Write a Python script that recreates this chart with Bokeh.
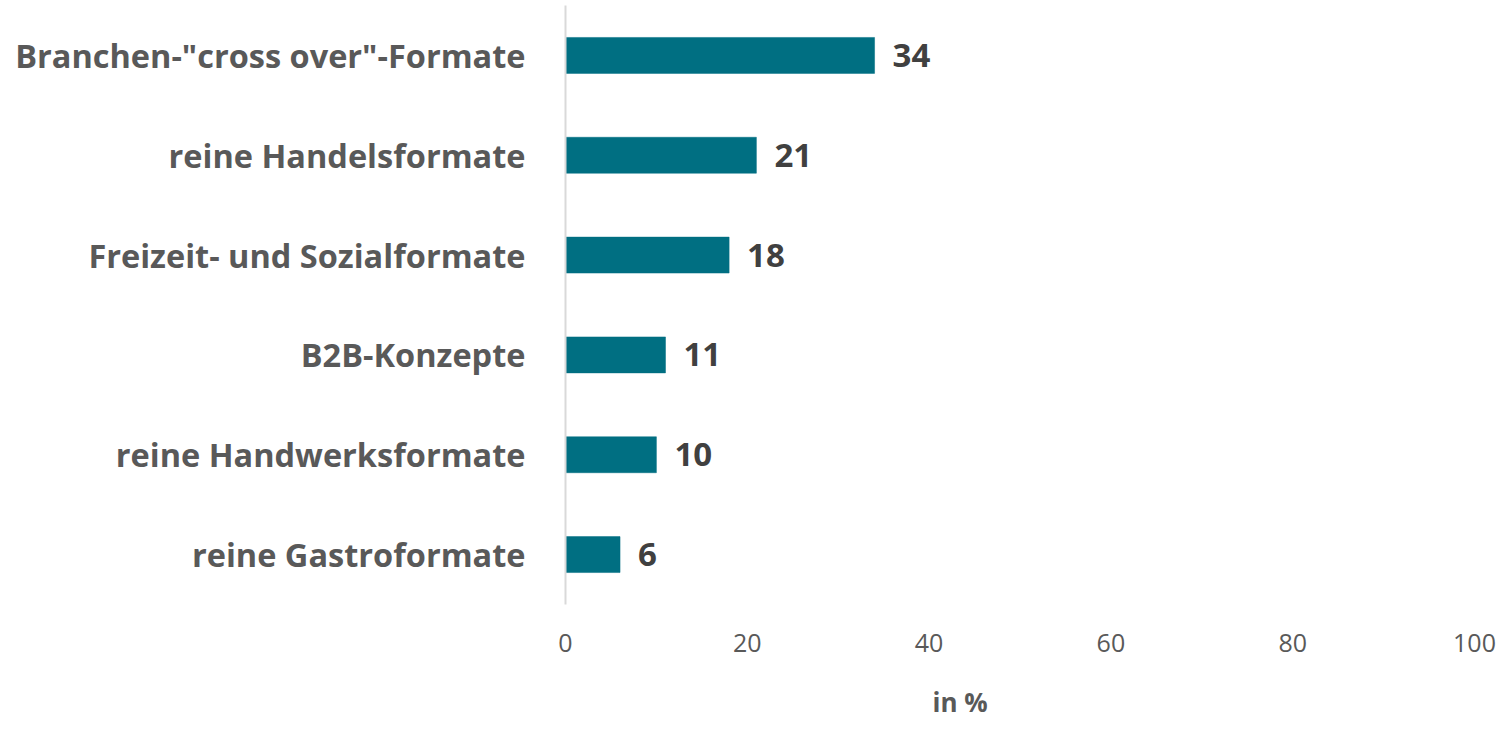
from bokeh.plotting import figure
from bokeh.models import ColumnDataSource, FactorRange, Range1d, Title, FixedTicker
from bokeh.core.properties import value
from bokeh.embed import file_html
from bokeh.resources import INLINE

categories = ['Branchen-"cross over"-Formate', "reine Handelsformate", "Freizeit- und Sozialformate",
              "B2B-Konzepte", "reine Handwerksformate", "reine Gastroformate"]
values = [34, 21, 18, 11, 10, 6]
x_ticks = [0, 20, 40, 60, 80, 100]
axis_title = "in %"

FONT = "Open Sans"
src = ColumnDataSource(dict(cat=categories, val=values, lab=[str(v) for v in values]))

p = figure(width=1496, height=719, output_backend="svg", toolbar_location=None,
           y_range=FactorRange(factors=list(reversed(categories)), range_padding=0),
           x_range=Range1d(0, 100),
           min_border_left=565, min_border_right=22, min_border_top=5, min_border_bottom=114)
p.outline_line_color = None
p.grid.grid_line_color = None

p.hbar(y="cat", right="val", left=0, height=0.36, source=src,
       fill_color="#006f82", line_color="#006f82", line_width=0.5)
p.text(x="val", y="cat", text="lab", source=src, x_offset=18, text_baseline="middle",
       text_align="left", text_font=value(FONT), text_font_style="bold",
       text_font_size="33px", text_color="#404040")

p.yaxis.axis_line_color = "#d9d9d9"
p.yaxis.axis_line_width = 2
p.yaxis.major_tick_line_color = None
p.yaxis.minor_tick_line_color = None
p.yaxis.major_label_text_font = FONT
p.yaxis.major_label_text_font_style = "bold"
p.yaxis.major_label_text_font_size = "32.5px"
p.yaxis.major_label_text_color = "#595959"
p.yaxis.major_label_standoff = 34

p.xaxis.ticker = FixedTicker(ticks=x_ticks)
p.xaxis.axis_line_color = None
p.xaxis.major_tick_line_color = None
p.xaxis.minor_tick_line_color = None
p.xaxis.major_label_text_font = FONT
p.xaxis.major_label_text_font_size = "25px"
p.xaxis.major_label_text_color = "#595959"
p.xaxis.major_label_standoff = 23
p.xaxis.axis_label = " "
p.xaxis.axis_label_text_font_size = "18px"
p.xaxis.axis_label_standoff = 4

t = Title(text=axis_title, align="left", offset=367, standoff=0,
          text_font=FONT, text_font_style="bold", text_font_size="26px",
          text_color="#595959")
p.add_layout(t, "below")

open("out.html", "w").write(file_html(p, INLINE))
